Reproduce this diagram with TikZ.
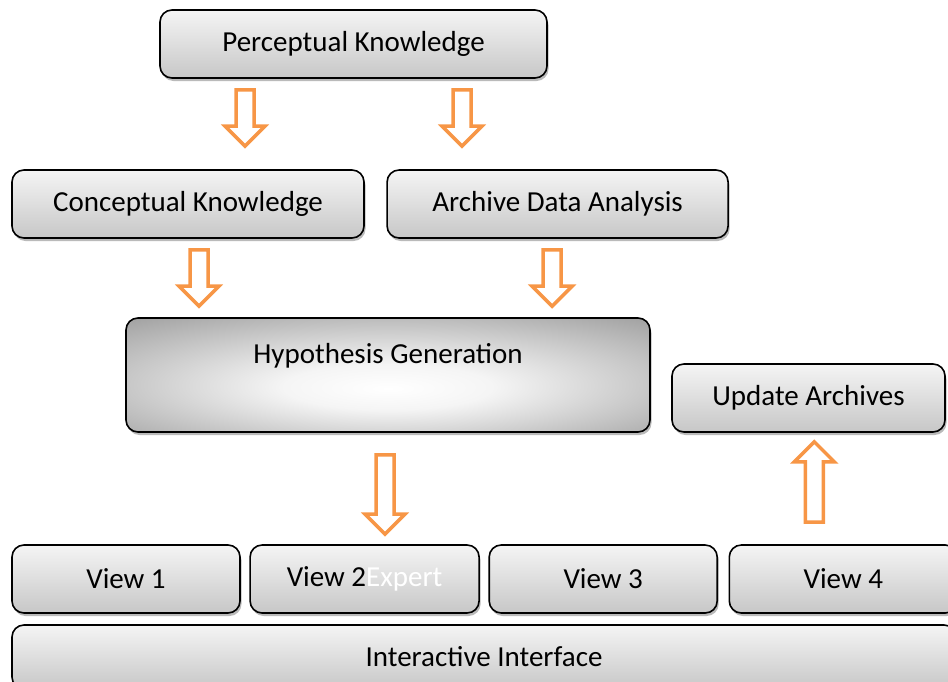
\documentclass[tikz,border=0pt]{standalone}
\usepackage{fontspec}
\setmainfont{Carlito}
\usetikzlibrary{positioning,calc,shadows}
\definecolor{arroworange}{HTML}{F79646}
\pgfdeclareradialshading{hyposhade}{\pgfpoint{0bp}{-6bp}}{color(0bp)=(white); color(10bp)=(white!96!black); color(42bp)=(black!42); color(80bp)=(black!45)}
\tikzset{
  box/.style={draw=black, line width=1.6pt, rounded corners=12pt,
    top color=black!4, bottom color=black!22,
    drop shadow={shadow xshift=1.5pt, shadow yshift=-3pt, fill=black!45, opacity=0.6},
    minimum height=68pt, inner sep=0pt, font=\fontsize{29}{34}\selectfont},
  hgbox/.style={box, shading=hyposhade, minimum height=114pt, text height=20pt, text depth=44pt},
  blockarrow/.style={draw=arroworange, fill=white, line width=3.5pt, line join=miter,
    to path={($(\tikztotarget)!20pt!(\tikztostart)$) coordinate (hb)
      ($(\tikztostart)+(-9,0)$) -- ($(hb)+(-9,0)$) -- ($(hb)+(-20,0)$) -- (\tikztotarget)
      -- ($(hb)+(20,0)$) -- ($(hb)+(9,0)$) -- ($(\tikztostart)+(9,0)$) -- cycle}}
}
\begin{document}
\begin{tikzpicture}[x=1pt, y=-1pt]
\useasboundingbox (0,0) rectangle (948,681);
\clip (0,0) rectangle (948,681);

\node[box, minimum width=387pt] (pk) at (353.5,44) {Perceptual Knowledge};
\node[box, minimum width=352pt] (ck) at (188,204) {Conceptual Knowledge};
\node[box, minimum width=341pt, right=21.5pt of ck] (ad) {Archive Data Analysis};
\node[hgbox, minimum width=524pt] (hg) at (388,375) {Hypothesis Generation};
\node[box, minimum width=273pt] (ua) at (808.5,398) {Update Archives};
\node[box, minimum width=228pt] (v1) at (126,579) {View 1};
\node[box, minimum width=229pt, right=8.5pt of v1] (v2) {View 2\textcolor{white}{Expert}};
\node[box, minimum width=228pt, right=8.5pt of v2] (v3) {View 3};
\node[box, minimum width=228pt, right=10.5pt of v3] (v4) {View 4};
\node[box, minimum width=944pt, minimum height=64pt] (ii) at (484,657) {Interactive Interface};

% arrow ends
\coordinate (pk1) at ([shift={(-108.5,11)}]pk.south);
\coordinate (pk2) at ([shift={(108.5,11)}]pk.south);
\coordinate (ckin) at ($(pk1 |- ck.north)+(0,-23)$);
\coordinate (adin) at ($(pk2 |- ad.north)+(0,-23)$);
\coordinate (ckout) at ([shift={(11,11)}]ck.south);
\coordinate (adout) at ([shift={(-5.5,11)}]ad.south);
\coordinate (hgin1) at ($(ckout |- hg.north)+(0,-11)$);
\coordinate (hgin2) at ($(adout |- hg.north)+(0,-11)$);
\coordinate (hgout) at ([shift={(-3,22)}]hg.south);
\coordinate (v2in) at ($(hgout |- v2.north)+(0,-10)$);
\coordinate (v4out) at ([shift={(-29,-22)}]v4.north);
\coordinate (uain) at ($(v4out |- ua.south)+(0,9)$);

% orange hollow arrows
\draw[blockarrow] (pk1) to (ckin);
\draw[blockarrow] (pk2) to (adin);
\draw[blockarrow] (ckout) to (hgin1);
\draw[blockarrow] (adout) to (hgin2);
\draw[blockarrow] (hgout) to (v2in);
\draw[blockarrow] (v4out) to (uain);
\end{tikzpicture}
\end{document}
